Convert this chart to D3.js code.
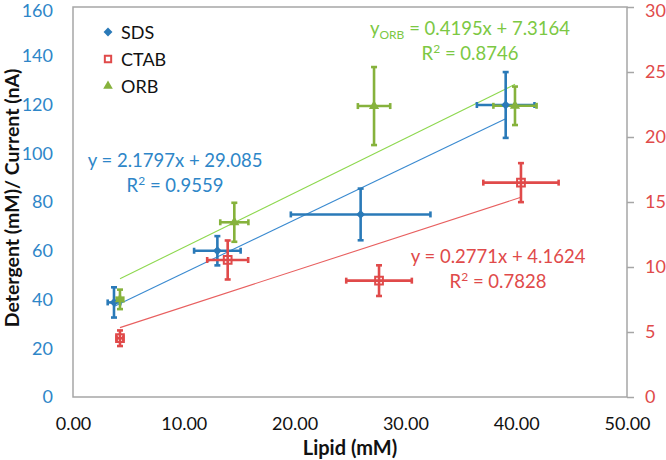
<!DOCTYPE html>
<html><head><meta charset="utf-8">
<script src="https://cdn.jsdelivr.net/npm/d3@7"></script>
<style>body{margin:0;background:#fff;}svg{display:block;font-family:Lato,"Open Sans",sans-serif;}</style>
</head><body>
<svg id="c" width="666" height="460"></svg>
<script>
// ---- data ----
const xTicks = [0, 10, 20, 30, 40, 50];
const leftTicks = [0, 20, 40, 60, 80, 100, 120, 140, 160];
const rightTicks = [0, 5, 10, 15, 20, 25, 30];

const seriesNames = ["SDS", "CTAB", "ORB"];

// SDS on primary (left) axis
const sdsX = [3.70, 13.03, 25.96, 39.05];
const sdsY = [38.8, 60.0, 74.9, 119.8];
const sdsXErr = [0.57, 2.1, 6.3, 2.6];
const sdsYErr = [6.2, 6.0, 10.6, 13.5];

// CTAB on secondary (right) axis
const ctabX = [4.24, 13.96, 27.62, 40.43];
const ctabY = [4.52, 10.54, 8.95, 16.49];
const ctabXErr = [0.3, 1.85, 2.96, 3.4];
const ctabYErr = [0.6, 1.5, 1.18, 1.5];

// ORB on secondary (right) axis
const orbX = [4.24, 14.56, 27.17, 39.89];
const orbY = [7.51, 13.44, 22.38, 22.4];
const orbXErr = [0.3, 1.27, 1.46, 1.95];
const orbYErr = [0.75, 1.5, 3.0, 1.48];

// linear trendlines [slope, intercept, r2]
const sdsFit = [2.1797, 29.085, 0.9559];
const ctabFit = [0.2771, 4.1624, 0.7828];
const orbFit = [0.4195, 7.3164, 0.8746];

// ---- layout ----
const svg = d3.select("#c");
const L = 73, R = 627, T = 7, B = 397;
const x = d3.scaleLinear().domain([0, 50]).range([L, R]);
const yL = d3.scaleLinear().domain([0, 160]).range([B, T]);
const yR = d3.scaleLinear().domain([0, 30]).range([B, T]);

const BLUE = "#2A7AB8", RED = "#E04A4A", GREEN = "#86B23C", GREEN_T = "#7CC843", GRID = "#A6A6A6";

// frame
svg.append("rect").attr("x", L).attr("y", T).attr("width", R - L).attr("height", B - T)
  .attr("fill", "none").attr("stroke", GRID).attr("stroke-width", 1.5);

// left axis (labels only)
const gl = svg.append("g").attr("transform", `translate(${L},0)`)
  .call(d3.axisLeft(yL).tickValues(leftTicks).tickSize(0).tickPadding(20));
gl.select(".domain").remove();
gl.selectAll("text").attr("fill", "#2E86C8").style("font-size", "18px").style("font-family", "Lato")
  .attr("dy", d => d === 160 ? "0.5em" : "0.32em");

// right axis
const gr = svg.append("g").attr("transform", `translate(${R},0)`)
  .call(d3.axisRight(yR).tickValues(rightTicks).tickSize(7).tickPadding(11));
gr.select(".domain").remove();
gr.selectAll("line").attr("stroke", GRID).attr("stroke-width", 1.5);
gr.selectAll("text").attr("fill", RED).style("font-size", "18px").style("font-family", "Lato")
  .attr("dy", d => d === 30 ? "0.5em" : "0.32em");

// bottom axis
const gb = svg.append("g").attr("transform", `translate(0,${B})`)
  .call(d3.axisBottom(x).tickValues(xTicks).tickFormat(d3.format(".2f")).tickSize(0).tickPadding(20));
gb.select(".domain").remove();
gb.selectAll("text").attr("fill", "#111").style("font-size", "18px").style("font-family", "Lato");

// axis titles
svg.append("text").attr("x", 350).attr("y", 455).attr("text-anchor", "middle")
  .style("font-weight", "bold").style("font-size", "20px").attr("fill", "#111").text("Lipid (mM)");
svg.append("text").attr("transform", "translate(19,198) rotate(-90)").attr("text-anchor", "middle")
  .style("font-weight", "bold").style("font-size", "19.5px").attr("fill", "#111").text("Detergent (mM)/ Current (nA)");

// trendlines
function trend(xs, fit, ys, color) {
  const x0 = d3.min(xs), x1 = d3.max(xs);
  svg.append("line").attr("x1", x(x0)).attr("x2", x(x1))
    .attr("y1", ys(fit[0] * x0 + fit[1])).attr("y2", ys(fit[0] * x1 + fit[1]))
    .attr("stroke", color).attr("stroke-width", 1.1);
}
trend(sdsX, sdsFit, yL, "#3A8AD0");
trend(ctabX, ctabFit, yR, "#E86060");
trend(orbX, orbFit, yR, "#8ED84F");

// error bars + markers
function errs(xs, ys, xe, ye, ysc, color) {
  const g = svg.append("g").attr("stroke", color).attr("stroke-width", 2.6).attr("fill", "none");
  const cap = 3;
  xs.forEach((xv, i) => {
    const cx = x(xv), cy = ysc(ys[i]);
    const xa = x(xv - xe[i]), xb = x(xv + xe[i]);
    const ya = ysc(ys[i] - ye[i]), yb = ysc(ys[i] + ye[i]);
    g.append("line").attr("x1", xa).attr("x2", xb).attr("y1", cy).attr("y2", cy);
    g.append("line").attr("x1", xa).attr("x2", xa).attr("y1", cy - cap).attr("y2", cy + cap);
    g.append("line").attr("x1", xb).attr("x2", xb).attr("y1", cy - cap).attr("y2", cy + cap);
    g.append("line").attr("x1", cx).attr("x2", cx).attr("y1", ya).attr("y2", yb);
    g.append("line").attr("x1", cx - cap).attr("x2", cx + cap).attr("y1", ya).attr("y2", ya);
    g.append("line").attr("x1", cx - cap).attr("x2", cx + cap).attr("y1", yb).attr("y2", yb);
  });
}
errs(sdsX, sdsY, sdsXErr, sdsYErr, yL, BLUE);
errs(orbX, orbY, orbXErr, orbYErr, yR, GREEN);
errs(ctabX, ctabY, ctabXErr, ctabYErr, yR, RED);

const diamond = d3.symbol().type(d3.symbolDiamond2).size(50);
const square = d3.symbol().type(d3.symbolSquare).size(60);
const tri = d3.symbol().type(d3.symbolTriangle).size(45);

svg.append("g").selectAll("path").data(sdsX).join("path")
  .attr("transform", (d, i) => `translate(${x(d)},${yL(sdsY[i])})`).attr("d", diamond).attr("fill", BLUE);
svg.append("g").selectAll("path").data(orbX).join("path")
  .attr("transform", (d, i) => `translate(${x(d)},${yR(orbY[i])})`).attr("d", tri).attr("fill", GREEN);
svg.append("g").selectAll("path").data(ctabX).join("path")
  .attr("transform", (d, i) => `translate(${x(d)},${yR(ctabY[i])})`).attr("d", square)
  .attr("fill", "none").attr("stroke", RED).attr("stroke-width", 2);

// legend
const legendColors = [BLUE, RED, GREEN];
const legendSyms = [diamond, d3.symbol().type(d3.symbolSquare).size(40), d3.symbol().type(d3.symbolTriangle).size(40)];
seriesNames.forEach((n, i) => {
  const ly = 32 + i * 27;
  const p = svg.append("path").attr("transform", `translate(108,${ly})`).attr("d", legendSyms[i]);
  if (i === 1) p.attr("fill", "none").attr("stroke", RED).attr("stroke-width", 2);
  else p.attr("fill", legendColors[i]);
  svg.append("text").attr("x", 121).attr("y", ly + 6.5).style("font-size", "18px").attr("fill", "#111").text(n);
});

// equation labels
function fmt(v) { return v.toString(); }
function eqLabel(cx, y1, y2, fit, color, sub) {
  const t = svg.append("text").attr("x", cx).attr("y", y1).attr("text-anchor", "middle")
    .style("font-size", "18.5px").attr("fill", color);
  t.append("tspan").text("y");
  if (sub) t.append("tspan").attr("dy", 4).style("font-size", "12px").text(sub);
  t.append("tspan").attr("dy", sub ? -4 : 0).text(` = ${fmt(fit[0])}x + ${fmt(fit[1])}`);
  const t2 = svg.append("text").attr("x", cx).attr("y", y2).attr("text-anchor", "middle")
    .style("font-size", "18.5px").attr("fill", color);
  t2.append("tspan").text("R");
  t2.append("tspan").attr("dy", -7).style("font-size", "12px").text("2");
  t2.append("tspan").attr("dy", 7).text(` = ${fmt(fit[2])}`);
}
eqLabel(175, 167, 192, sdsFit, "#2E86C8", null);
eqLabel(470, 35, 60, orbFit, GREEN_T, "ORB");
eqLabel(498, 263, 288, ctabFit, RED, null);
</script>
</body></html>
